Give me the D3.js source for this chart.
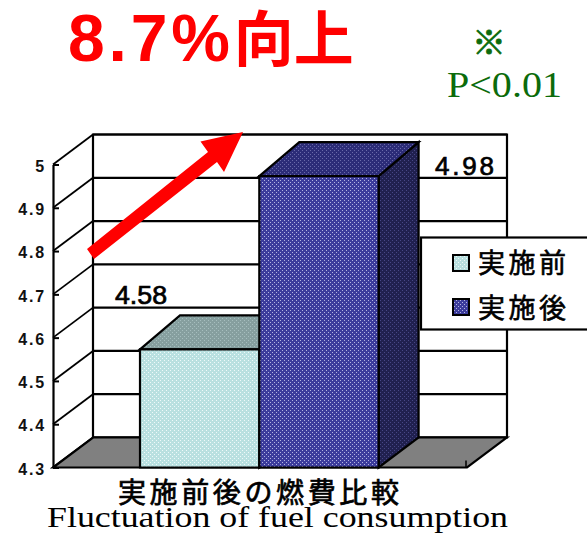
<!DOCTYPE html>
<html>
<head>
<meta charset="utf-8">
<script src="https://cdn.jsdelivr.net/npm/d3@7"></script>
<style>
  html, body { margin: 0; padding: 0; background: #fff; overflow: hidden; }
  svg { display: block; }
  .jp { font-family: "Noto Sans CJK JP"; }
</style>
</head>
<body>
<svg id="chart" width="587" height="533"></svg>
<script>
var categories = ['実施前', '実施後'];
var values = [4.58, 4.98];
var valueLabels = ['4.58', '4.98'];
var yTicks = [4.3, 4.4, 4.5, 4.6, 4.7, 4.8, 4.9, 5];

var svg = d3.select('#chart');
var defs = svg.append('defs');

// depth of the fake 3d box
var dx = 40, dy = -30;
var left = 53, right = 467, floorY = 467.5, topY = 164.5;

var y = d3.scaleLinear().domain([4.3, 5]).range([floorY, topY]);
var x = d3.scaleBand().domain(categories).range([140, 378.6]);

// dotted fills, one per face colour
function dots(id, bg, dot) {
	var p = defs.append('pattern')
		.attr('id', id)
		.attr('width', 4).attr('height', 4)
		.attr('patternUnits', 'userSpaceOnUse');
	p.append('rect').attr('width', 4).attr('height', 4).attr('fill', bg);
	p.append('rect').attr('x', 0).attr('y', 0).attr('width', 1).attr('height', 1).attr('fill', dot);
	p.append('rect').attr('x', 2).attr('y', 2).attr('width', 1).attr('height', 1).attr('fill', dot);
}
dots('front0', '#b9e0e0', '#eef9f9');
dots('top0', '#869f9f', '#a6bebe');
dots('side0', '#5d7878', '#6d8888');
dots('front1', '#3c3c9c', '#b4b4e2');
dots('top1', '#2c2c78', '#6a6aaa');
dots('side1', '#20204f', '#474785');

var line = d3.line();
function poly(g, pts, fill) {
	return g.append('path')
		.attr('d', line(pts) + 'Z')
		.attr('fill', fill)
		.attr('stroke', '#000')
		.attr('stroke-width', 2.2)
		.attr('stroke-linejoin', 'miter');
}

// back wall + floor
var box = svg.append('g');
poly(box, [[left + dx, y(5) + dy], [right + dx, y(5) + dy], [right + dx, floorY + dy], [left + dx, floorY + dy]], '#fff');
box.selectAll('line.grid')
	.data(yTicks)
	.join('line')
	.attr('class', 'grid')
	.attr('x1', left + dx).attr('x2', right + dx)
	.attr('y1', d => y(d) + dy).attr('y2', d => y(d) + dy)
	.attr('stroke', '#000').attr('stroke-width', 2.2);
box.selectAll('line.diag')
	.data(yTicks)
	.join('line')
	.attr('class', 'diag')
	.attr('x1', left).attr('x2', left + dx)
	.attr('y1', d => y(d)).attr('y2', d => y(d) + dy)
	.attr('stroke', '#000').attr('stroke-width', 1.8);
poly(box, [[left, floorY], [right, floorY], [right + dx, floorY + dy], [left + dx, floorY + dy]], '#808080');
box.append('line')
	.attr('x1', right - 1).attr('x2', right - 1)
	.attr('y1', floorY).attr('y2', floorY - 7)
	.attr('stroke', '#000').attr('stroke-width', 1.5);

// bars: front face sits a little under the gridline, top goes a bit deeper than the box
var barDrop = 3, barDeep = -34;
var bars = svg.append('g');
categories.forEach(function(c, i) {
	var x0 = x(c), x1 = x0 + x.bandwidth(), t = y(values[i]) + barDrop;
	poly(bars, [[x1, t], [x1 + dx, t + barDeep], [x1 + dx, floorY + dy], [x1, floorY]], 'url(#side' + i + ')');
	poly(bars, [[x0, t], [x0 + dx, t + barDeep], [x1 + dx, t + barDeep], [x1, t]], 'url(#top' + i + ')');
	poly(bars, [[x0, t], [x1, t], [x1, floorY], [x0, floorY]], 'url(#front' + i + ')');
});

// value axis
var axis = svg.append('g')
	.attr('transform', 'translate(' + left + ',0)')
	.call(d3.axisLeft(y).tickValues(yTicks).tickSizeInner(-6).tickSizeOuter(0).tickPadding(7).tickFormat(d => d === 5 ? '5' : d3.format('.1f')(d)));
axis.select('.domain').attr('stroke', '#000').attr('stroke-width', 2.2);
axis.selectAll('.tick line').attr('stroke', '#000').attr('stroke-width', 2);
axis.selectAll('.tick text')
	.attr('fill', '#111')
	.attr('font-family', 'Liberation Sans')
	.attr('font-weight', 'bold')
	.attr('font-size', 16)
	.attr('letter-spacing', 1.8)
	.attr('dy', '0.42em');

// value labels
svg.append('text')
	.text(valueLabels[0])
	.attr('x', 115).attr('y', 304)
	.attr('textLength', 52).attr('lengthAdjust', 'spacingAndGlyphs')
	.attr('font-family', 'Liberation Sans').attr('font-size', 25).attr('fill', '#000')
	.attr('stroke', '#000').attr('stroke-width', 0.7);
svg.append('text')
	.text(valueLabels[1])
	.attr('x', 435).attr('y', 175)
	.attr('textLength', 59).attr('lengthAdjust', 'spacing')
	.attr('font-family', 'Liberation Sans').attr('font-size', 26).attr('fill', '#000')
	.attr('stroke', '#000').attr('stroke-width', 0.7);

// rise arrow
svg.append('path')
	.attr('d', line([[87, 249], [208, 152], [200.5, 141.5], [243, 132], [224, 172], [217, 162], [94, 259]]) + 'Z')
	.attr('fill', '#ff0000');

// legend, runs off the right edge like the original
var legend = svg.append('g');
legend.append('rect')
	.attr('x', 421).attr('y', 237.5).attr('width', 180).attr('height', 92)
	.attr('fill', '#fff').attr('stroke', '#000').attr('stroke-width', 2.2);
legend.selectAll('rect.sw')
	.data(categories)
	.join('rect')
	.attr('class', 'sw')
	.attr('x', 453).attr('y', (d, i) => 255 + i * 44)
	.attr('width', 16).attr('height', 16)
	.attr('fill', (d, i) => 'url(#front' + i + ')')
	.attr('stroke', '#000').attr('stroke-width', 2);
legend.selectAll('text')
	.data(categories)
	.join('text')
	.text(d => d)
	.attr('class', 'jp')
	.attr('x', 478).attr('y', (d, i) => 273 + i * 44.5)
	.attr('font-size', 27).attr('letter-spacing', 3.5).attr('fill', '#000')
	.attr('stroke', '#000').attr('stroke-width', 0.6);

// titles
var head = svg.append('text').attr('x', 68).attr('y', 61).attr('fill', '#ff0000');
head.append('tspan').text('8.7%')
	.attr('font-family', 'Liberation Sans').attr('font-weight', 'bold').attr('font-size', 66).attr('letter-spacing', 3.8);
head.append('tspan').text('向上').attr('class', 'jp')
	.attr('font-weight', 'bold').attr('font-size', 60);

svg.append('text').text('※').attr('class', 'jp')
	.attr('x', 489).attr('y', 55).attr('text-anchor', 'middle')
	.attr('font-size', 34).attr('fill', '#0b6b0b')
	.attr('stroke', '#0b6b0b').attr('stroke-width', 0.8);
svg.append('text').text('P<0.01')
	.attr('x', 447).attr('y', 97)
	.attr('textLength', 115).attr('lengthAdjust', 'spacingAndGlyphs')
	.attr('font-family', 'Liberation Serif').attr('font-size', 35).attr('fill', '#0b6b0b');

svg.append('text').text('実施前後の燃費比較').attr('class', 'jp')
	.attr('x', 118).attr('y', 503)
	.attr('textLength', 281).attr('lengthAdjust', 'spacing')
	.attr('font-size', 28).attr('fill', '#000')
	.attr('stroke', '#000').attr('stroke-width', 0.7);
svg.append('text').text('Fluctuation of fuel consumption')
	.attr('x', 47).attr('y', 527)
	.attr('textLength', 461).attr('lengthAdjust', 'spacingAndGlyphs')
	.attr('font-family', 'Liberation Serif').attr('font-size', 30).attr('fill', '#000');
</script>
</body>
</html>
